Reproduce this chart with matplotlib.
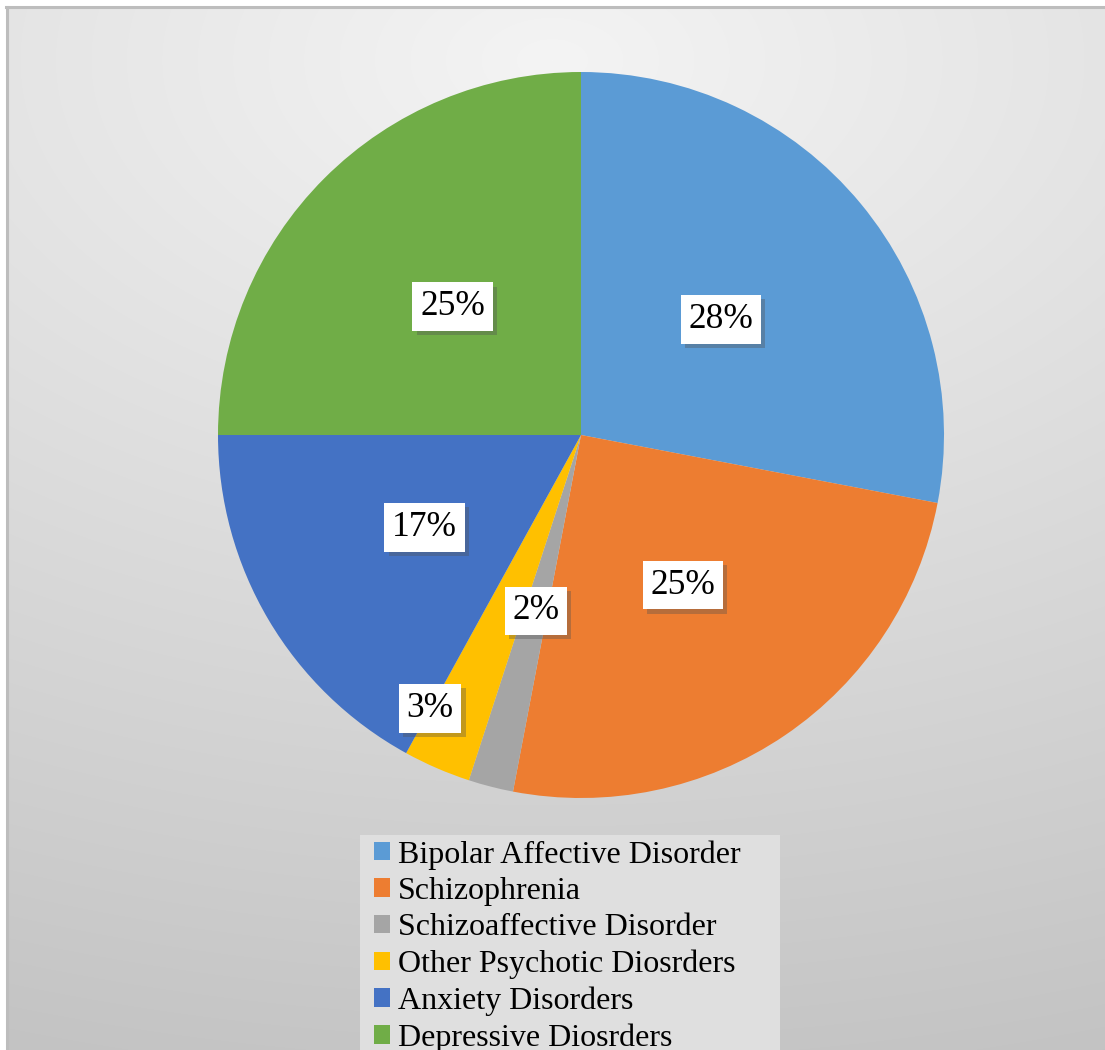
import numpy as np
import matplotlib
matplotlib.use("Agg")
import matplotlib.pyplot as plt
import matplotlib.patheffects as pe
from matplotlib.patches import Patch, Rectangle
from matplotlib.lines import Line2D

categories = [
    "Bipolar Affective Disorder",
    "Schizophrenia",
    "Schizoaffective Disorder",
    "Other Psychotic Diosrders",
    "Anxiety Disorders",
    "Depressive Diosrders",
]
shares = [28, 25, 2, 3, 17, 25]
colors = ["#5B9BD5", "#ED7D31", "#A5A5A5", "#FFC000", "#4472C4", "#70AD47"]

W, H = 1105, 1050
fig = plt.figure(figsize=(W / 100, H / 100), dpi=100)
fig.patch.set_facecolor("white")

# soft grey backdrop, lighter near the top centre
bg = fig.add_axes([0, 0, 1, 1], zorder=0)
yy, xx = np.mgrid[0:H, 0:W]
dist = np.sqrt(((xx - 552) * 0.6) ** 2 + (yy - 60) ** 2)
g = np.clip(244 - 0.047 * dist, 0, 255) / 255.0
img = np.dstack([g, g, g])
img[:6, :, :] = 1.0
img[:, :6, :] = 1.0
bg.imshow(img, extent=(0, W, H, 0), aspect="auto", interpolation="bilinear")
bg.set_xlim(0, W)
bg.set_ylim(H, 0)
bg.axis("off")
fig.add_artist(Line2D([6 / W, 1], [1 - 6.5 / H, 1 - 6.5 / H], transform=fig.transFigure,
                      color="#bdbdbd", lw=2.2))
fig.add_artist(Line2D([7 / W, 7 / W], [0, 1 - 6.5 / H], transform=fig.transFigure,
                      color="#bdbdbd", lw=2.2))

# pie
cx, cy, r = 581, 435, 363
ax = fig.add_axes([(cx - r) / W, (H - cy - r) / H, 2 * r / W, 2 * r / H], zorder=2)
wedges, _, autotexts = ax.pie(
    shares, colors=colors, startangle=90, counterclock=False,
    autopct=lambda p: f"{p:.0f}%", pctdistance=0.5,
    wedgeprops=dict(linewidth=0),
    textprops=dict(family="Liberation Serif", fontsize=25.5, color="black"),
)
ax.set_xlim(-1, 1)
ax.set_ylim(-1, 1)

# the small yellow slice's label sits further out
w = wedges[3]
ang = np.deg2rad((w.theta1 + w.theta2) / 2 - 5.5)
autotexts[3].set_position((0.86 * np.cos(ang), 0.86 * np.sin(ang)))

for t in autotexts:
    t.set_bbox(dict(boxstyle="square,pad=0.22", facecolor="white", edgecolor="none"))
    t.get_bbox_patch().set_path_effects([
        pe.SimplePatchShadow(offset=(3, -3), shadow_rgbFace="#505050", alpha=0.35),
        pe.Normal(),
    ])

# legend panel
fig.add_artist(Rectangle((360 / W, 0), 420 / W, 1 - 835 / H, transform=fig.transFigure,
                         facecolor="#dfdfdf", edgecolor="none", zorder=2.5))
handles = [Patch(facecolor=c, edgecolor="none") for c in colors]
leg = fig.legend(
    handles, categories, loc="upper left",
    bbox_to_anchor=(374 / W, 1 - 840 / H),
    prop=dict(family="Liberation Serif", size=23),
    frameon=False,
    handlelength=0.5, handleheight=0.5, handletextpad=0.25, labelspacing=0.23,
    borderpad=0, borderaxespad=0,
)
leg.set_zorder(3)

fig.savefig("out.png", dpi=100)
